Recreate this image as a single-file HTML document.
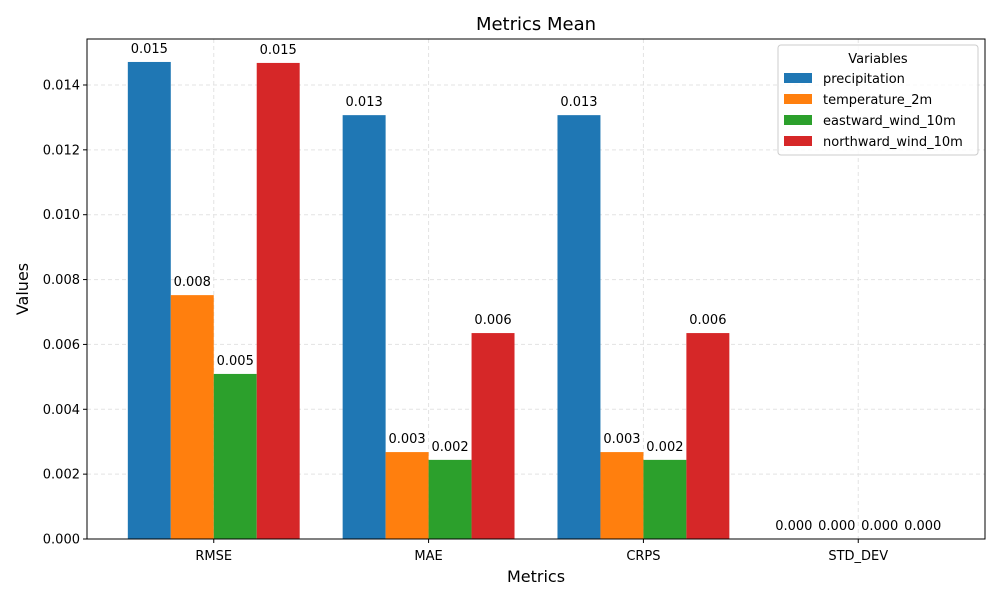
<!DOCTYPE html>
<html><head><meta charset="utf-8"><style>
body{margin:0;background:#fff;font-family:"Liberation Sans","DejaVu Sans",sans-serif;}
svg text{font-family:"DejaVu Sans","Liberation Sans",sans-serif;}
</style></head><body>
<svg id="chart" width="1000" height="600" xmlns="http://www.w3.org/2000/svg">
<rect width="1000" height="600" fill="#fff"/>
<g id="grid"></g><g id="bars"></g><g id="labels"></g><g id="axes"></g>
<text x="536" y="30" text-anchor="middle" font-size="18">Metrics Mean</text>
<text x="536" y="582" text-anchor="middle" font-size="16">Metrics</text>
<text transform="translate(28,289) rotate(-90)" text-anchor="middle" font-size="16">Values</text>
<g id="legend"></g>
</svg>
<script>
const categories=["RMSE","MAE","CRPS","STD_DEV"];
const seriesNames=["precipitation","temperature_2m","eastward_wind_10m","northward_wind_10m"];
const precipitation=[0.01471,0.01307,0.01307,0];
const temperature=[0.00752,0.00268,0.00268,0];
const eastward=[0.00509,0.00244,0.00244,0];
const northward=[0.01468,0.00635,0.00635,0];
const yTicks=[0,0.002,0.004,0.006,0.008,0.010,0.012,0.014];
const colors=["#1f77b4","#ff7f0e","#2ca02c","#d62728"];
const series=[precipitation,temperature,eastward,northward];
const L=87,R=985,T=39,B=539,yMax=0.015418,xMin=-0.59,xMax=3.59;
const y=v=>B-(v/yMax)*(B-T);
const x=v=>L+(v-xMin)/(xMax-xMin)*(R-L);
const NS="http://www.w3.org/2000/svg";
function mk(tag,attrs,parent,txt){const e=document.createElementNS(NS,tag);for(const k in attrs)e.setAttribute(k,attrs[k]);if(txt!==undefined)e.textContent=txt;document.getElementById(parent).appendChild(e);return e;}
yTicks.forEach(t=>{
 const g=mk('line',{x1:L,x2:R,y1:y(t),y2:y(t),stroke:'#e3e3e3','stroke-dasharray':'4,3'},'grid');
 
 
 const tk=mk('line',{x1:L-4,x2:L,y1:y(t),y2:y(t),stroke:'#000'},'axes');
 
 
 const tl=mk('text',{x:L-7,y:y(t)+4.5,'text-anchor':'end','font-size':13},'axes',t.toFixed(3));
 
 
});
categories.forEach((c,i)=>{
 const g=mk('line',{x1:x(i),x2:x(i),y1:T,y2:B,stroke:'#e3e3e3','stroke-dasharray':'4,3'},'grid');
 
 
 const tk=mk('line',{x1:x(i),x2:x(i),y1:B,y2:B+4,stroke:'#000'},'axes');
 
 
 const tl=mk('text',{x:x(i),y:B+21,'text-anchor':'middle','font-size':13},'axes',c);
 
 
 series.forEach((s,j)=>{
  const x0=x(i-0.4+0.2*j),x1=x(i-0.2+0.2*j);
  const r=mk('rect',{x:x0,y:y(s[i]),width:x1-x0,height:B-y(s[i]),fill:colors[j]},'bars');
  
  
  const lb=mk('text',{x:(x0+x1)/2,y:y(s[i])-9,'text-anchor':'middle','font-size':13},'labels',s[i].toFixed(3));
  
  
 });
});
const fr=mk('rect',{x:L,y:T,width:R-L,height:B-T,fill:'none',stroke:'#000','stroke-width':1},'axes');


const lbox=mk('rect',{x:778,y:45,width:200,height:110,rx:3,fill:'#fff','fill-opacity':0.8,stroke:'#ccc'},'legend');


const lt=mk('text',{x:878,y:63,'text-anchor':'middle','font-size':13},'legend','Variables');


seriesNames.forEach((n,j)=>{
 const yy=78+21*j;
 const sw=mk('rect',{x:784,y:yy-5,width:28,height:10,fill:colors[j]},'legend');
 
 
 const tx=mk('text',{x:823,y:yy+5,'font-size':13},'legend',n);
 
 
});
</script>
</body></html>
